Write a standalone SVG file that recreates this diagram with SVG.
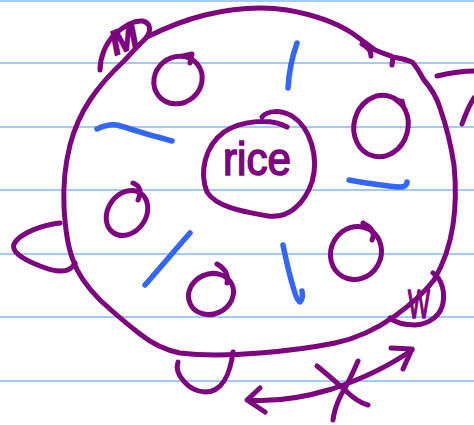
<svg xmlns="http://www.w3.org/2000/svg" width="474" height="425" viewBox="0 0 474 425">
<style>
.rule{stroke:#a3c9f7;stroke-width:2;fill:none}
.p{stroke:#7d037f;stroke-width:5;fill:none;stroke-linecap:round;stroke-linejoin:round}
.b{stroke:#3366ff;stroke-width:5.5;fill:none;stroke-linecap:round;stroke-linejoin:round}
.t{fill:#7d037f;stroke:#7d037f;stroke-width:1.6;font-family:"Liberation Sans",Arial,sans-serif}
</style>
<rect width="474" height="425" fill="#ffffff"/>
<g id="paper">
<line class="rule" x1="0" y1="1" x2="474" y2="1"/>
<line class="rule" x1="0" y1="63" x2="474" y2="63"/>
<line class="rule" x1="0" y1="127" x2="474" y2="127"/>
<line class="rule" x1="0" y1="190" x2="474" y2="190"/>
<line class="rule" x1="0" y1="254" x2="474" y2="254"/>
<line class="rule" x1="0" y1="317" x2="474" y2="317"/>
<line class="rule" x1="0" y1="381" x2="474" y2="381"/>
</g>
<g id="body">
<path class="p" d="M147,37 C165,28 185,20 205,15 C230,9 260,6 287,10 C310,14 335,22 352,33 C362,40 368,45 375,50 M362,44 C368,47 371,50 371,56 M375,50 C382,53 388,55 393,57 L392,65 M393,57 C400,58 407,60 412,62 C418,68 420,74 424,80 C431,88 436,95 440,108 C446,125 451,145 454,165 C456,185 456,205 453,225 C450,245 444,263 434,280 C424,293 410,305 395,316 C378,328 360,338 335,343 C310,348 285,351 260,353 C235,355 205,356 180,353 C165,350 150,342 140,334 C127,324 113,312 100,300 C88,288 78,275 73,260 C67,245 65,225 64,207 C63,185 65,165 70,145 C74,130 80,115 90,100 C100,85 112,72 125,60 C133,51 140,44 147,37"/>
</g>
<g id="ear-m">
<path class="p" d="M100,70 C100,58 105,44 115,34 C124,26 134,20 143,21 C150,23 152,30 146,38"/>
<text class="t" x="124" y="51" font-size="34" font-weight="bold" font-style="italic" text-anchor="middle" transform="rotate(-22 124 40)">M</text>
</g>
<g id="ear-left">
<path class="p" d="M60,223 C42,225 20,233 14,244 C11,252 24,260 40,266 C55,272 70,274 75,263"/>
</g>
<g id="ear-bottom">
<path class="p" d="M178,362 C174,374 188,391 205,392 C221,392 230,376 233,352"/>
</g>
<g id="ear-right">
<path class="p" d="M437,76 C450,73 462,71 474,71 M462,124 C466,113 470,104 474,98"/>
</g>
<g id="ear-w">
<path class="p" d="M433,273 C442,279 445,292 443,303 C441,315 430,324 415,325 C405,325 396,323 390,318"/>
<text class="t" x="0" y="0" font-size="40" text-anchor="middle" transform="translate(419,318) scale(0.58,1)">W</text>
</g>
<g id="rice">
<path class="p" d="M287,127 C272,118 242,120 224,132 C205,146 199,172 207,192 C217,208 246,212 268,216 C290,219 305,202 312,182 C319,158 311,128 292,116 C281,110 268,110 262,117"/>
<text class="t" x="257" y="175" font-size="46" text-anchor="middle" textLength="68" lengthAdjust="spacingAndGlyphs">rice</text>
</g>
<g id="grain-1">
<ellipse class="p" cx="178" cy="80" rx="25" ry="23" transform="rotate(-40 178 80)"/>
<path class="p" d="M183,56 L192,54 L190,63"/>
</g>
<g id="grain-2">
<ellipse class="p" cx="381" cy="126" rx="27" ry="31" transform="rotate(15 381 126)"/>
<path d="M389,97 L404,99 L408,113 Z" fill="#7d037f"/>
</g>
<g id="grain-3">
<ellipse class="p" cx="127" cy="213" rx="19" ry="24" transform="rotate(35 127 213)"/>
<path class="p" d="M133,183 C140,186 142,191 138,200"/>
</g>
<g id="grain-4">
<ellipse class="p" cx="211" cy="294" rx="23" ry="20" transform="rotate(-25 211 294)"/>
<path class="p" d="M217,264 C224,268 229,273 227,283"/>
</g>
<g id="grain-5">
<ellipse class="p" cx="356" cy="253" rx="25" ry="27" transform="rotate(30 356 253)"/>
<path class="p" d="M363,223 C370,227 376,231 372,240"/>
</g>
<g id="dashes">
<path class="b" d="M297,43 C292,57 289,72 288,88"/>
<path class="b" d="M97,129 C103,126 110,124 117,125 C128,128 140,132 150,135 C158,137 165,139 172,141"/>
<path class="b" d="M349,180 C366,183 383,186 400,187 C404,187 407,185 407,182"/>
<path class="b" d="M190,233 C175,250 160,268 145,285"/>
<path class="b" d="M283,245 C286,260 290,277 294,290 C296,297 298,302 300,302 C302,300 303,296 302,291"/>
</g>
<g id="connectors">
<path class="p" d="M412,350 C392,364 368,377 332,389 C302,398 272,402 248,400"/>
<path class="p" d="M391,348 L412,349 L403,369"/>
<path class="p" d="M260,388 L247,400 L265,412"/>
<path class="p" d="M317,366 C327,374 337,383 345,390 C352,397 360,403 368,405"/>
<path class="p" d="M358,361 C352,375 346,387 341,395 C336,405 334,412 333,420"/>
</g>
</svg>
